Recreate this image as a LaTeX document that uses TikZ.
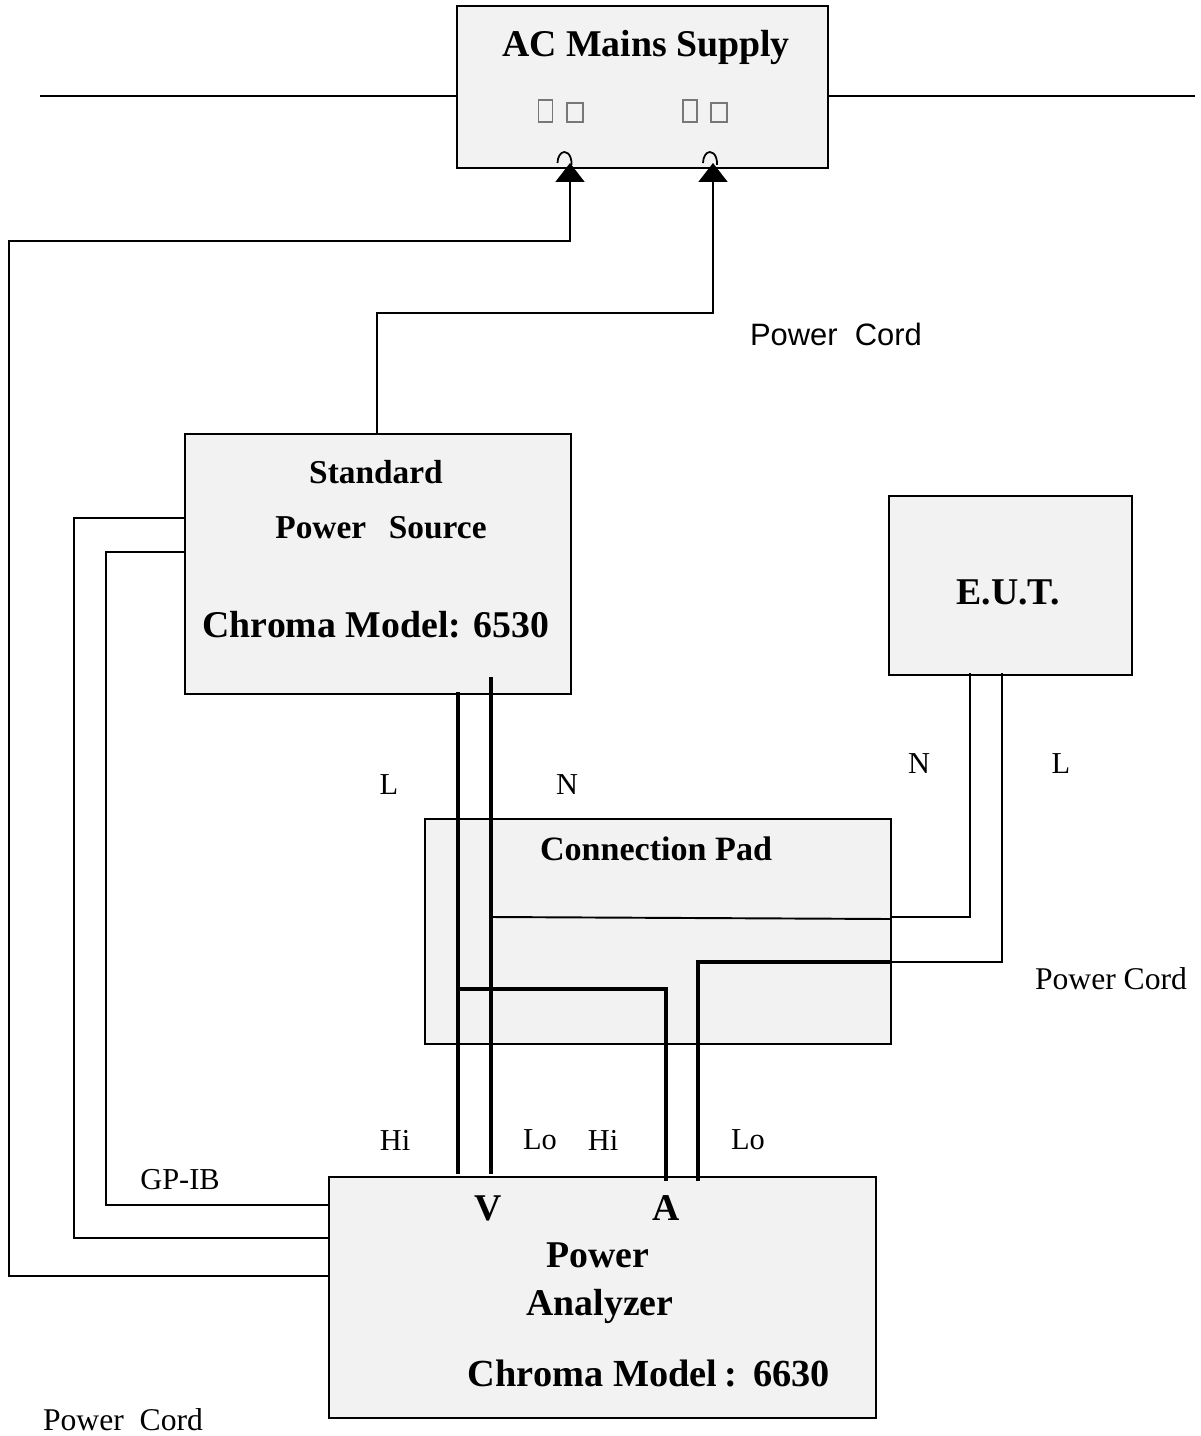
\documentclass[tikz,border=0pt]{standalone}
\usepackage{xcolor}
\usepackage{fontspec}
\setmainfont{Liberation Serif}
\setsansfont{Liberation Sans}
\usetikzlibrary{arrows.meta}
\definecolor{box-fill}{HTML}{F2F2F2}
\definecolor{tofu-color}{RGB}{120,120,120}
\tikzset{
    x=0.02cm, y=-0.02cm,
    box/.style = {draw=black, fill=box-fill, line width=1.1pt, inner sep=0pt},
    wire/.style = {draw=black, line width=1.1pt},
    heavy/.style = {draw=black, line width=1.9pt},
    plug/.style = {-{Triangle[length=0.38cm, width=0.58cm]}},
    tofu/.style = {draw=tofu-color, line width=0.6pt, inner sep=0pt},
    huge-label/.style = {inner sep=0pt, font=\fontsize{21.5}{25}\selectfont\bfseries},
    big-label/.style = {inner sep=0pt, font=\fontsize{19}{23}\selectfont\bfseries},
    small-label/.style = {inner sep=0pt, font=\fontsize{17.3}{20}\selectfont},
    cord-label/.style = {inner sep=0pt, font=\fontsize{18}{20}\selectfont},
    sans-label/.style = {inner sep=0pt, font=\fontsize{17.6}{20}\selectfont\sffamily}
}

\begin{document}
\begin{tikzpicture}
\useasboundingbox (0,0) rectangle (1200,1436);

%boxes
\node [box, minimum width=7.42cm, minimum height=3.24cm] (mains) at (642.5,87) {};
\node [box, minimum width=7.72cm, minimum height=5.2cm] (source) at (378,564) {};
\node [box, minimum width=4.86cm, minimum height=3.58cm] (eut) at (1010.5,585.5) {};
\node [box, minimum width=9.32cm, minimum height=4.5cm] (pad) at (658,931.5) {};
\node [box, minimum width=10.94cm, minimum height=4.82cm] (analyzer) at (602.5,1297.5) {};

%supply line
\coordinate (lineleft) at (40,96);
\coordinate (lineright) at (1195,96);
\draw [wire] (lineleft) -- (mains.west |- lineleft);
\draw [wire] (mains.east |- lineright) -- (lineright);

%sockets
\node [tofu, minimum width=0.28cm, minimum height=0.44cm] (sock1) at (545.5,111) {};
\node [tofu, minimum width=0.32cm, minimum height=0.38cm] (sock2) at (575,112.5) {};
\node [tofu, minimum width=0.28cm, minimum height=0.44cm] (sock3) at (690,111) {};
\node [tofu, minimum width=0.32cm, minimum height=0.38cm] (sock4) at (719,112.5) {};
\draw [line width=1pt] (557.5,163) arc (180:370:7 and 11);
\draw [line width=1pt] (703,163) arc (180:370:7 and 11);

%power cords
\coordinate (mainsa) at (570,163);
\coordinate (mainsb) at (713,163);
\coordinate (sourcetop) at (377,434);
\coordinate (analyzerpw) at (329,1276);
\draw [wire, plug] (analyzerpw) -| (9,241) -| (mainsa);
\draw [wire, plug] (sourcetop) |- (713,313) -- (mainsb);

%gp-ib
\draw [wire] (source.west |- 0,518) -| (74,1238) -- (analyzer.west |- 0,1238);
\draw [wire] (source.west |- 0,552) -| (106,1205) -- (analyzer.west |- 0,1205);

%meter leads
\coordinate (sourcel) at (458,692);
\coordinate (sourcen) at (491,677);
\coordinate (vhi) at (458,1174);
\coordinate (vlo) at (491,1174);
\coordinate (ahi) at (666,1181);
\coordinate (alo) at (698,1181);
\coordinate (padright) at (891,962);
\draw [heavy] (sourcel) -- (vhi);
\draw [heavy] (sourcen) -- (vlo);
\draw [heavy] (sourcel |- 0,989) -| (ahi);
\draw [heavy] (alo) |- (padright);

%eut leads
\coordinate (padn) at (890,917);
\coordinate (eutn) at (970,673);
\coordinate (eutl) at (1002,673);
\draw [wire] (sourcen |- 0,917) -- (890,919);
\draw [wire] (padn) -| (eutn);
\draw [wire] (padright) -| (eutl);

%box labels
\node [huge-label] (mainstext) at (646,47) {AC Mains Supply};
\node [big-label] (sourcetext) at (376,472) {Standard};
\node [big-label] (sourcetexttwo) at (381,528) {Power\hspace{0.68em}Source};
\node [huge-label] (modelsource) at (376,625) {Chroma Model: 6530};
\node [huge-label] (euttext) at (1008,592) {E.U.T.};
\node [big-label, font=\fontsize{19.4}{23}\selectfont\bfseries] (padtext) at (656,849) {Connection Pad};
\node [huge-label] (vtext) at (488,1208) {V};
\node [huge-label] (atext) at (666,1208) {A};
\node [huge-label] (analyzertext) at (598,1255) {Power};
\node [huge-label] (analyzertexttwo) at (600,1306) {Analyzer};
\node [huge-label, font=\fontsize{21.8}{25}\selectfont\bfseries] (modelanalyzer) at (649,1373) {Chroma Model\hspace{0.2em}:\hspace{0.41em}6630};

%wire labels
\node [sans-label] (cordtop) at (836,334) {Power\ \ Cord};
\node [cord-label] (cordright) at (1111,979) {Power Cord};
\node [cord-label] (cordbottom) at (123,1420) {Power\ \ Cord};
\node [small-label] (lsource) at (389,785) {L};
\node [small-label] (nsource) at (567,785) {N};
\node [small-label] (neut) at (919,764) {N};
\node [small-label] (leut) at (1061,764) {L};
\node [small-label] (hiv) at (395,1140) {Hi};
\node [small-label] (lov) at (540,1140) {Lo};
\node [small-label] (hia) at (603,1140) {Hi};
\node [small-label] (loa) at (748,1140) {Lo};
\node [small-label] (gpib) at (180,1180) {GP-IB};
\end{tikzpicture}
\end{document}
